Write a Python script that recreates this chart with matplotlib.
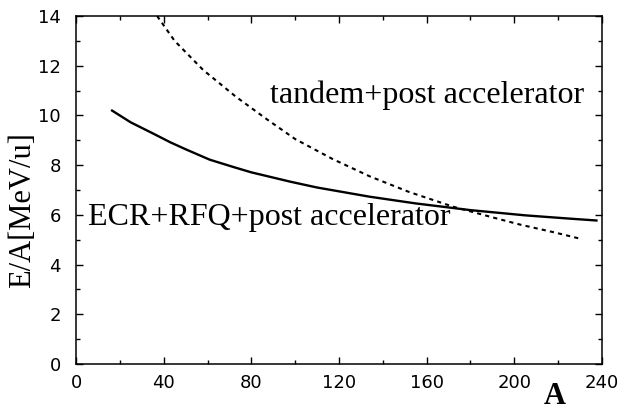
import matplotlib
matplotlib.use("Agg")
import matplotlib.pyplot as plt
from matplotlib.ticker import MultipleLocator

# ECR+RFQ+post accelerator (solid)
ecr_A = [16, 25, 35, 43, 50, 61, 72, 80, 98, 110, 134, 155, 180, 205, 225, 238]
ecr_E = [10.22, 9.72, 9.28, 8.92, 8.64, 8.22, 7.92, 7.71, 7.33, 7.1, 6.73, 6.46, 6.19, 5.98, 5.85, 5.77]

# tandem+post accelerator (dashed)
tan_A = [37, 45, 58, 73, 87, 100, 117, 134, 152, 172, 190, 203, 218, 231]
tan_E = [14.0, 13.0, 11.83, 10.75, 9.85, 9.05, 8.25, 7.55, 6.92, 6.33, 5.9, 5.6, 5.3, 5.02]

xticks = [0, 40, 80, 120, 160, 200, 240]
yticks = [0, 2, 4, 6, 8, 10, 12, 14]

fig = plt.figure(figsize=(6.22, 4.11), dpi=100)
ax = fig.add_axes([76/622, 1-364/411, (602-76)/622, (364-16)/411])

ax.plot(ecr_A, ecr_E, color="black", lw=1.7, solid_capstyle="butt")
ax.plot(tan_A, tan_E, color="black", lw=1.5, ls=(0, (2.0, 2.0)))

ax.set_xlim(0, 240)
ax.set_ylim(0, 14)
ax.set_xticks(xticks)
ax.set_yticks(yticks)
ax.xaxis.set_minor_locator(MultipleLocator(20))
ax.yaxis.set_minor_locator(MultipleLocator(1))
ax.tick_params(which="both", direction="in", top=True, right=True, width=1.0)
ax.tick_params(which="major", length=5)
ax.tick_params(which="minor", length=3)
for lab in ax.get_xticklabels() + ax.get_yticklabels():
    lab.set_fontfamily("DejaVu Sans")
    lab.set_fontsize(13)
ax.tick_params(axis="x", pad=7)
ax.tick_params(axis="y", pad=11)
for s in ax.spines.values():
    s.set_linewidth(1.1)

ax.text(270/622, 1-95/411, "tandem+post accelerator", transform=fig.transFigure,
        fontfamily="Liberation Serif", fontsize=23, ha="left", va="center")
ax.text(88/622, 1-217/411, "ECR+RFQ+post accelerator", transform=fig.transFigure,
        fontfamily="Liberation Serif", fontsize=23, ha="left", va="center")

fig.text(23/622, 1-210/411, "E/A[MeV/u]", rotation=90, fontfamily="Liberation Serif",
         fontsize=22, ha="center", va="center")
fig.text(555/622, 1-396/411, "A", fontfamily="Liberation Serif", fontweight="bold",
         fontsize=22, ha="center", va="center")

fig.savefig("out.png", dpi=100)
